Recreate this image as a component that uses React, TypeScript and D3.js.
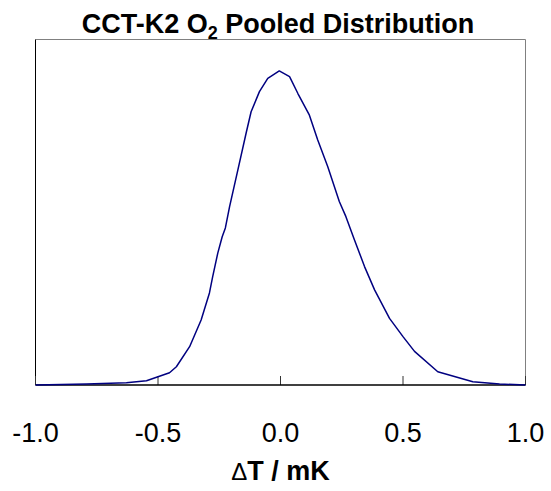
import React from "react";
import * as d3 from "d3";

const title = "CCT-K2 O";
const titleSub = "2";
const titleRest = " Pooled Distribution";
const xLabel = "T / mK";
const xTicks = [-1.0, -0.5, 0.0, 0.5, 1.0];

const deltaT = [-1.0, -0.792, -0.629, -0.547, -0.5, -0.453, -0.425, -0.371, -0.324, -0.29, -0.277, -0.256, -0.238, -0.225, -0.208, -0.174, -0.14, -0.12, -0.086, -0.052, -0.005, 0.037, 0.071, 0.118, 0.152, 0.193, 0.24, 0.267, 0.302, 0.343, 0.384, 0.445, 0.5, 0.547, 0.642, 0.785, 0.894, 1.0];
const density = [0, 0.003, 0.0073, 0.0137, 0.0264, 0.039, 0.058, 0.122, 0.207, 0.293, 0.344, 0.42, 0.472, 0.5, 0.567, 0.685, 0.803, 0.87, 0.934, 0.976, 1.0, 0.982, 0.928, 0.859, 0.78, 0.695, 0.584, 0.536, 0.462, 0.377, 0.303, 0.212, 0.154, 0.107, 0.042, 0.0105, 0.003, 0];

export default function App() {
  const W = 551, H = 491;
  const left = 35.5, right = 525.5, top = 39.5, bottom = 385;
  const x = d3.scaleLinear().domain([-1, 1]).range([left, right]);
  const y = d3.scaleLinear().domain([0, 1.1]).range([bottom, top]);
  const pts = deltaT.map((d, i) => [d, density[i]] as [number, number]);
  const line = d3.line<[number, number]>().x(d => x(d[0])).y(d => y(d[1]));
  const font = "Arial, 'Liberation Sans', Helvetica, sans-serif";
  return (
    <svg width={W} height={H} style={{ position: "absolute", left: 0, top: 0, background: "#fff" }}>
      <text x={278} y={33} textAnchor="middle" fontFamily={font} fontWeight="bold" fontSize={27}>
        {title}
        <tspan fontSize={18} dy={6}>{titleSub}</tspan>
        <tspan dy={-6}>{titleRest}</tspan>
      </text>
      <line x1={left} x2={right} y1={top} y2={top} stroke="#808080" strokeWidth={1} />
      <line x1={right} x2={right} y1={top} y2={bottom} stroke="#808080" strokeWidth={1} />
      <line x1={left} x2={left} y1={top} y2={bottom} stroke="#000" strokeWidth={1} />
      {xTicks.map(t => (
        <g key={t}>
          <line x1={x(t)} x2={x(t)} y1={bottom} y2={bottom - 9} stroke="#333" strokeWidth={1} />
          <text x={x(t)} y={442} textAnchor="middle" fontFamily={font} fontSize={27}>{t.toFixed(1)}</text>
        </g>
      ))}
      <line x1={left} x2={right} y1={bottom} y2={bottom} stroke="#000" strokeWidth={1.5} />
      <path d={line(pts) || ""} fill="none" stroke="#000080" strokeWidth={1.5} strokeLinejoin="round" />
      <text x={(left + right) / 2} y={480} textAnchor="middle" fontFamily={font} fontWeight="bold" fontSize={27}>
        <tspan fontSize={24} fontWeight="normal">Δ</tspan>{xLabel}
      </text>
    </svg>
  );
}
